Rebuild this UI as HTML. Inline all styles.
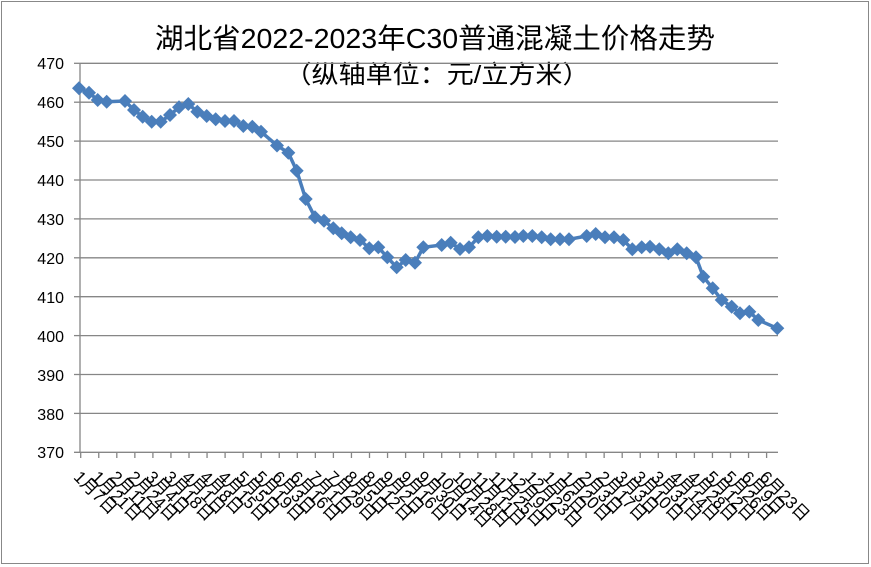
<!DOCTYPE html>
<html><head><meta charset="utf-8"><style>
html,body{margin:0;padding:0;background:#fff;}
svg{display:block;font-family:"Liberation Sans","Noto Sans CJK SC",sans-serif;}
</style></head><body>
<svg width="871" height="567" viewBox="0 0 871 567" xmlns="http://www.w3.org/2000/svg">
<rect x="1.5" y="1.5" width="867" height="562" fill="#fff" stroke="#888" stroke-width="1"/>
<text x="435" y="48" text-anchor="middle" font-size="28" textLength="560" lengthAdjust="spacingAndGlyphs" fill="#000">湖北省2022-2023年C30普通混凝土价格走势</text>
<text x="437" y="83" text-anchor="middle" font-size="25" textLength="305" lengthAdjust="spacingAndGlyphs" fill="#000">（纵轴单位：元/立方米）</text>
<g stroke="#868686" stroke-width="1.3">
<line x1="80" y1="63.3" x2="778" y2="63.3"/>
<line x1="80" y1="102.2" x2="778" y2="102.2"/>
<line x1="80" y1="141.1" x2="778" y2="141.1"/>
<line x1="80" y1="180" x2="778" y2="180"/>
<line x1="80" y1="218.9" x2="778" y2="218.9"/>
<line x1="80" y1="257.8" x2="778" y2="257.8"/>
<line x1="80" y1="296.7" x2="778" y2="296.7"/>
<line x1="80" y1="335.6" x2="778" y2="335.6"/>
<line x1="80" y1="374.5" x2="778" y2="374.5"/>
<line x1="80" y1="413.4" x2="778" y2="413.4"/>
<line x1="74" y1="452.3" x2="778" y2="452.3"/>
<line x1="80" y1="63.3" x2="80" y2="452.3"/>
<line x1="74" y1="63.3" x2="80" y2="63.3"/><line x1="74" y1="102.2" x2="80" y2="102.2"/><line x1="74" y1="141.1" x2="80" y2="141.1"/><line x1="74" y1="180" x2="80" y2="180"/><line x1="74" y1="218.9" x2="80" y2="218.9"/><line x1="74" y1="257.8" x2="80" y2="257.8"/><line x1="74" y1="296.7" x2="80" y2="296.7"/><line x1="74" y1="335.6" x2="80" y2="335.6"/><line x1="74" y1="374.5" x2="80" y2="374.5"/><line x1="74" y1="413.4" x2="80" y2="413.4"/>
</g>
<g id="ticks" stroke="#868686" stroke-width="1.3"></g>
<g font-size="16" fill="#000" text-anchor="end">
<text x="64" y="69">470</text><text x="64" y="108">460</text><text x="64" y="147">450</text><text x="64" y="186">440</text><text x="64" y="225">430</text><text x="64" y="264">420</text><text x="64" y="303">410</text><text x="64" y="342">400</text><text x="64" y="381">390</text><text x="64" y="420">380</text><text x="64" y="458">370</text>
</g>
<g id="labels" font-size="17" fill="#000"></g>
<polyline id="line" fill="none" stroke="#4a7ebb" stroke-width="3.5" stroke-linejoin="round"/>
<g id="marks" fill="#4a7ebb"></g>
<script>
var ns="http://www.w3.org/2000/svg";
var pts=[[79,88.3],[89,92.7],[97.7,100],[106.7,101.7],[125,101],[134,110],[142.7,116.7],[151.7,121.7],[160.7,121.7],[170,115],[179,107.3],[188.3,104],[197.3,111.7],[206.7,116],[215.7,119.3],[225,121],[234,121],[243.3,126],[252.3,126.7],[261,131.7],[277,145.5],[288.3,152.7],[296.7,170.7],[305.7,199],[315,217.3],[324,220.7],[333.3,228.3],[341.7,233.3],[350.7,237.3],[360,240],[369.3,248.3],[378.3,247.3],[387.3,257.3],[396.7,267.3],[405.7,260],[415,262.7],[423.3,247.3],[441.7,245],[450.7,242.7],[460,249],[469,247.3],[478.3,237.3],[487.3,236],[496.7,236.7],[505.7,236.7],[515,237],[523.3,236],[532.3,236],[541.7,237.3],[550.7,239.3],[560,239.3],[569,239.3],[586.7,236],[595.7,234],[605,237.3],[614,237.3],[623.3,240],[632.3,249.3],[641.7,247.3],[650,246.7],[659.3,249.3],[668.3,253.3],[677.3,249.3],[686.7,253.3],[696,257.3],[703.3,276.7],[712.7,288.3],[721.7,300],[731.7,306.7],[740,313.3],[749.3,311.7],[758.3,320],[777.3,328.3]];
document.getElementById("line").setAttribute("points",pts.map(function(p){return p[0]+","+p[1]}).join(" "));
var m=document.getElementById("marks");
pts.forEach(function(p){var e=document.createElementNS(ns,"polygon");var s=7;e.setAttribute("points",(p[0])+","+(p[1]-s)+" "+(p[0]+s)+","+p[1]+" "+p[0]+","+(p[1]+s)+" "+(p[0]-s)+","+p[1]);m.appendChild(e);});
var t=document.getElementById("ticks"),L=document.getElementById("labels");
var mo=["1","1","2","2","3","3","4","4","4","5","5","6","6","7","7","8","8","9","9","9","10","10","11","11","12","12","1","1","2","2","3","3","3","4","4","5","5","6","6"];
var dy=["7","21","11","24","4","18","1","8","15","5","19","3","16","1","29","5","12","2","16","30","14","28","11","25","9","23","6","20","3","17","3","10","31","14","28","12","26","9","23"];
for(var i=0;i<39;i++){var x=80.7+i*18.05;var l=document.createElementNS(ns,"line");l.setAttribute("x1",x);l.setAttribute("x2",x);l.setAttribute("y1",452.3);l.setAttribute("y2",458);t.appendChild(l);
var tx=document.createElementNS(ns,"text");tx.setAttribute("transform","translate("+(x-8)+",478) rotate(45)");tx.textContent=mo[i]+"月"+dy[i]+"日";L.appendChild(tx);}
</script>
</svg>
</body></html>
